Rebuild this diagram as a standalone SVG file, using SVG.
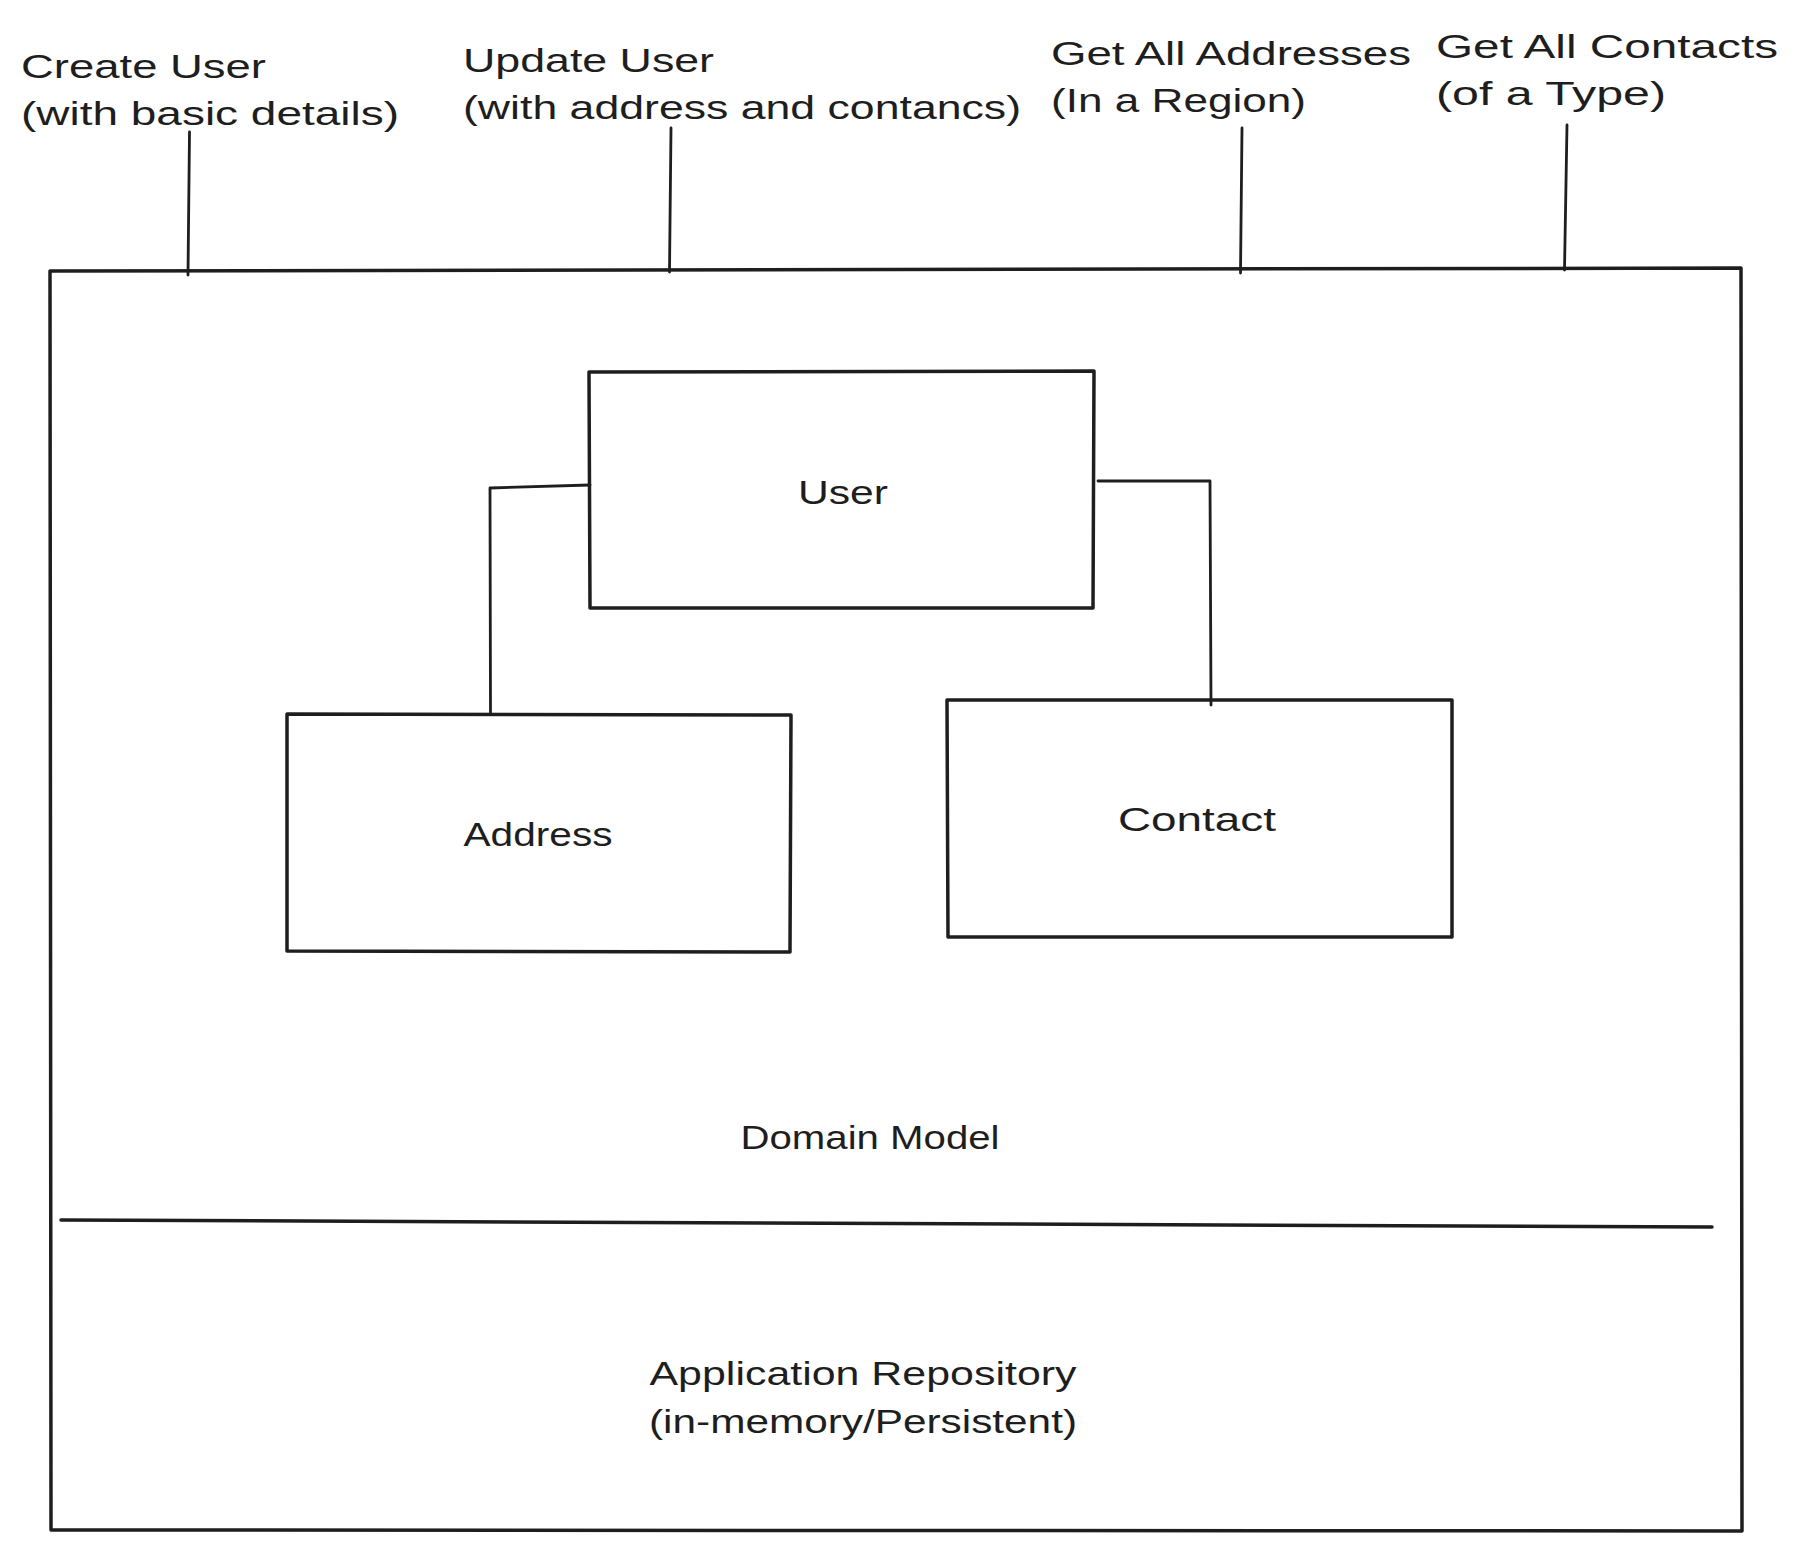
<svg xmlns="http://www.w3.org/2000/svg" width="1798" height="1549" viewBox="0 0 1798 1549">
<style>
  .box { fill: none; stroke: #1e1e1e; stroke-width: 3.5; stroke-linejoin: round; stroke-linecap: round; }
  .ln { fill: none; stroke: #1e1e1e; stroke-width: 2.8; stroke-linecap: round; stroke-linejoin: round; }
  .t { font-family: "Liberation Sans", Arial, sans-serif; font-size: 34px; fill: #1e1e1e; }
  .c { text-anchor: middle; }
</style>
<rect x="0" y="0" width="1798" height="1549" fill="#ffffff"/>

<g id="label-create-user">
  <text class="t" x="21" y="78" textLength="245" lengthAdjust="spacingAndGlyphs">Create User</text>
  <text class="t" x="21" y="125" textLength="378" lengthAdjust="spacingAndGlyphs">(with basic details)</text>
</g>
<g id="label-update-user">
  <text class="t" x="463" y="72" textLength="251" lengthAdjust="spacingAndGlyphs">Update User</text>
  <text class="t" x="463" y="119" textLength="558" lengthAdjust="spacingAndGlyphs">(with address and contancs)</text>
</g>
<g id="label-get-addresses">
  <text class="t" x="1051" y="65" textLength="360" lengthAdjust="spacingAndGlyphs">Get All Addresses</text>
  <text class="t" x="1051" y="112" textLength="255" lengthAdjust="spacingAndGlyphs">(In a Region)</text>
</g>
<g id="label-get-contacts">
  <text class="t" x="1436" y="58" textLength="342" lengthAdjust="spacingAndGlyphs">Get All Contacts</text>
  <text class="t" x="1436" y="105" textLength="230" lengthAdjust="spacingAndGlyphs">(of a Type)</text>
</g>

<g id="application">
  <path class="box" d="M50 271 L1741 268 L1742 1531 L51 1530 Z"/>
  <path class="box" d="M61 1220 L1712 1227" stroke-width="4"/>
  <text class="t c" x="870" y="1149" textLength="259" lengthAdjust="spacingAndGlyphs">Domain Model</text>
  <text class="t c" x="863" y="1385" textLength="427" lengthAdjust="spacingAndGlyphs">Application Repository</text>
  <text class="t c" x="863" y="1433" textLength="428" lengthAdjust="spacingAndGlyphs">(in-memory/Persistent)</text>
</g>

<g id="user">
  <path class="box" d="M589 372 L1094 371 L1093 608 L590 608 Z"/>
  <text class="t c" x="843" y="504" textLength="90" lengthAdjust="spacingAndGlyphs">User</text>
</g>
<g id="address">
  <path class="box" d="M287 714 L791 715 L790 952 L287 951 Z"/>
  <text class="t c" x="538" y="846" textLength="149" lengthAdjust="spacingAndGlyphs">Address</text>
</g>
<g id="contact">
  <path class="box" d="M947 700 L1452 700 L1452 937 L948 937 Z"/>
  <text class="t c" x="1197" y="831" textLength="158" lengthAdjust="spacingAndGlyphs">Contact</text>
</g>

<g id="connectors">
  <path class="ln" d="M189.5 132 L188 275"/>
  <path class="ln" d="M671 128 L669.5 272"/>
  <path class="ln" d="M1242 128 L1240.5 273"/>
  <path class="ln" d="M1567 125 L1564.5 270"/>
  <path class="ln" d="M590 485 L490 488 L490.5 714" stroke-width="3.2"/>
  <path class="ln" d="M1098 481 L1210 481 L1211 705" stroke-width="3.2"/>
</g>
</svg>
